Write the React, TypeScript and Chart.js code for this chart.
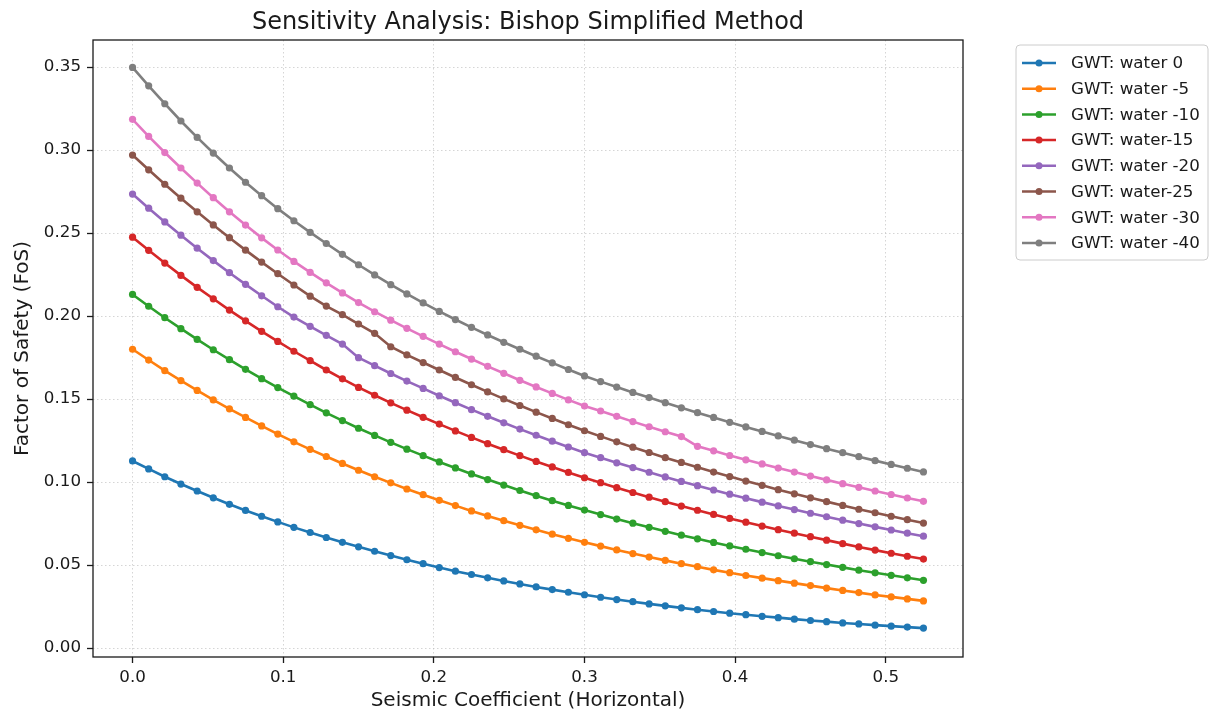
import React, { useEffect, useRef } from "react";
import { Chart, registerables } from "chart.js";

Chart.register(...registerables);

const chartTitle = "Sensitivity Analysis: Bishop Simplified Method";
const xAxisTitle = "Seismic Coefficient (Horizontal)";
const yAxisTitle = "Factor of Safety (FoS)";

const seismicCoefficient = [
  0, 0.0107, 0.0214, 0.0321, 0.0429, 0.0536, 0.0643, 0.075, 0.0857, 0.0964,
  0.1071, 0.1179, 0.1286, 0.1393, 0.15, 0.1607, 0.1714, 0.1821, 0.1929, 0.2036,
  0.2143, 0.225, 0.2357, 0.2464, 0.2571, 0.2679, 0.2786, 0.2893, 0.3, 0.3107,
  0.3214, 0.3321, 0.3429, 0.3536, 0.3643, 0.375, 0.3857, 0.3964, 0.4071, 0.4179,
  0.4286, 0.4393, 0.45, 0.4607, 0.4714, 0.4821, 0.4929, 0.5036, 0.5143, 0.525,
];

const seriesLabels = [
  "GWT: water 0",
  "GWT: water -5",
  "GWT: water -10",
  "GWT: water-15",
  "GWT: water -20",
  "GWT: water-25",
  "GWT: water -30",
  "GWT: water -40",
];

const water0 = [
  0.1127, 0.1079, 0.1032, 0.0988, 0.0946, 0.0905, 0.0866, 0.0829, 0.0794, 0.076,
  0.0727, 0.0696, 0.0666, 0.0637, 0.061, 0.0583, 0.0557, 0.0532, 0.0508, 0.0485,
  0.0463, 0.0443, 0.0423, 0.0404, 0.0386, 0.0368, 0.0352, 0.0336, 0.0321, 0.0306,
  0.0292, 0.0279, 0.0266, 0.0254, 0.0242, 0.0231, 0.022, 0.021, 0.0201, 0.0191,
  0.0183, 0.0174, 0.0166, 0.0159, 0.0151, 0.0145, 0.0138, 0.0132, 0.0126, 0.012,
];
const water5 = [
  0.18, 0.1735, 0.1671, 0.1611, 0.1552, 0.1495, 0.1441, 0.1389, 0.1338, 0.1289,
  0.1242, 0.1197, 0.1154, 0.1112, 0.1071, 0.1032, 0.0995, 0.0958, 0.0924, 0.089,
  0.0858, 0.0826, 0.0796, 0.0767, 0.0739, 0.0712, 0.0686, 0.0661, 0.0637, 0.0614,
  0.0591, 0.0569, 0.0548, 0.0528, 0.0508, 0.049, 0.0471, 0.0454, 0.0437, 0.0421,
  0.0406, 0.0391, 0.0376, 0.0361, 0.0347, 0.0334, 0.032, 0.0308, 0.0296, 0.0284,
];
const water10 = [
  0.213, 0.2059, 0.199, 0.1924, 0.1859, 0.1797, 0.1737, 0.1679, 0.1623, 0.1569,
  0.1517, 0.1466, 0.1417, 0.137, 0.1324, 0.1281, 0.1239, 0.1198, 0.1159, 0.1121,
  0.1085, 0.1049, 0.1015, 0.0982, 0.0949, 0.0918, 0.0888, 0.0859, 0.0831, 0.0804,
  0.0777, 0.0752, 0.0727, 0.0703, 0.068, 0.0658, 0.0636, 0.0615, 0.0595, 0.0575,
  0.0556, 0.0538, 0.052, 0.0503, 0.0486, 0.0469, 0.0453, 0.0438, 0.0423, 0.0408,
];
const water15 = [
  0.2475, 0.2396, 0.2319, 0.2245, 0.2173, 0.2104, 0.2036, 0.1971, 0.1908, 0.1847,
  0.1788, 0.1731, 0.1675, 0.1622, 0.157, 0.1523, 0.1477, 0.1433, 0.139, 0.1349,
  0.1308, 0.1269, 0.1231, 0.1195, 0.1159, 0.1124, 0.1091, 0.1058, 0.1026, 0.0996,
  0.0966, 0.0937, 0.0909, 0.0882, 0.0855, 0.083, 0.0805, 0.0781, 0.0758, 0.0735,
  0.0713, 0.0692, 0.0671, 0.065, 0.0629, 0.0609, 0.059, 0.0571, 0.0553, 0.0536,
];
const water20 = [
  0.2735, 0.265, 0.2567, 0.2487, 0.2409, 0.2334, 0.2261, 0.2191, 0.2122, 0.2056,
  0.1994, 0.1938, 0.1884, 0.1831, 0.1749, 0.1701, 0.1654, 0.1608, 0.1564, 0.152,
  0.1478, 0.1436, 0.1396, 0.1357, 0.1319, 0.1282, 0.1246, 0.1211, 0.1177, 0.1147,
  0.1116, 0.1087, 0.1059, 0.1031, 0.1004, 0.0978, 0.0952, 0.0927, 0.0903, 0.0879,
  0.0856, 0.0834, 0.0812, 0.0791, 0.077, 0.075, 0.073, 0.0711, 0.0692, 0.0674,
];
const water25 = [
  0.297, 0.2881, 0.2794, 0.271, 0.2628, 0.2549, 0.2472, 0.2397, 0.2325, 0.2255,
  0.2187, 0.212, 0.206, 0.2008, 0.1952, 0.1896, 0.1815, 0.1766, 0.172, 0.1675,
  0.163, 0.1586, 0.1543, 0.1501, 0.1461, 0.1421, 0.1383, 0.1345, 0.1309, 0.1275,
  0.1242, 0.121, 0.1178, 0.1147, 0.1118, 0.1089, 0.106, 0.1033, 0.1006, 0.098,
  0.0954, 0.0929, 0.0905, 0.0882, 0.0859, 0.0836, 0.0815, 0.0794, 0.0773, 0.0753,
];
const water30 = [
  0.3185, 0.3082, 0.2985, 0.2892, 0.2801, 0.2713, 0.2628, 0.2548, 0.2471, 0.2398,
  0.2329, 0.2263, 0.22, 0.2139, 0.2081, 0.2026, 0.1975, 0.1926, 0.1878, 0.1831,
  0.1785, 0.1741, 0.1697, 0.1655, 0.1613, 0.1573, 0.1534, 0.1495, 0.1458, 0.1428,
  0.1396, 0.1364, 0.1333, 0.1303, 0.1274, 0.1215, 0.1188, 0.116, 0.1134, 0.1109,
  0.1084, 0.106, 0.1036, 0.1013, 0.099, 0.0968, 0.0946, 0.0925, 0.0904, 0.0884,
];
const water40 = [
  0.3498, 0.3387, 0.3279, 0.3175, 0.3076, 0.2982, 0.2892, 0.2806, 0.2725, 0.2647,
  0.2574, 0.2504, 0.2437, 0.2372, 0.2309, 0.2248, 0.2189, 0.2133, 0.2079, 0.2028,
  0.1979, 0.1932, 0.1886, 0.1842, 0.18, 0.1758, 0.1718, 0.1678, 0.1639, 0.1605,
  0.1572, 0.154, 0.1509, 0.1478, 0.1447, 0.1418, 0.1389, 0.136, 0.1332, 0.1305,
  0.1278, 0.1252, 0.1226, 0.1201, 0.1177, 0.1153, 0.1129, 0.1106, 0.1083, 0.1061,
];

const seriesColors = [
  "#1f77b4", "#ff7f0e", "#2ca02c", "#d62728",
  "#9467bd", "#8c564b", "#e377c2", "#7f7f7f",
];

const xTickValues = [0, 0.1, 0.2, 0.3, 0.4, 0.5];
const yTickValues = [0, 0.05, 0.1, 0.15, 0.2, 0.25, 0.3, 0.35];

const FONT = "'DejaVu Sans', 'Liberation Sans', sans-serif";
const TEXT = "#1a1a1a";

const overlayPlugin = {
  id: "overlay",
  afterDraw(chart: any) {
    const { ctx, chartArea: a } = chart;
    ctx.save();
    // axes frame (all four spines)
    ctx.strokeStyle = TEXT;
    ctx.lineWidth = 1.3;
    ctx.strokeRect(a.left, a.top, a.right - a.left, a.bottom - a.top);

    // title
    ctx.fillStyle = TEXT;
    ctx.font = `24px ${FONT}`;
    ctx.textAlign = "center";
    ctx.textBaseline = "alphabetic";
    ctx.fillText(chartTitle, (a.left + a.right) / 2, a.top - 11);

    // legend box
    const lx = a.right + 53;
    const ly = a.top + 5;
    const lw = 192;
    const lh = 215;
    const r = 4;
    ctx.beginPath();
    ctx.moveTo(lx + r, ly);
    ctx.lineTo(lx + lw - r, ly);
    ctx.arcTo(lx + lw, ly, lx + lw, ly + r, r);
    ctx.lineTo(lx + lw, ly + lh - r);
    ctx.arcTo(lx + lw, ly + lh, lx + lw - r, ly + lh, r);
    ctx.lineTo(lx + r, ly + lh);
    ctx.arcTo(lx, ly + lh, lx, ly + lh - r, r);
    ctx.lineTo(lx, ly + r);
    ctx.arcTo(lx, ly, lx + r, ly, r);
    ctx.closePath();
    ctx.fillStyle = "rgba(255,255,255,0.8)";
    ctx.fill();
    ctx.strokeStyle = "#cccccc";
    ctx.lineWidth = 1;
    ctx.stroke();

    ctx.font = `16.7px ${FONT}`;
    ctx.textAlign = "left";
    ctx.textBaseline = "middle";
    chart.data.datasets.forEach((ds: any, k: number) => {
      const y = ly + 18 + k * 25.7;
      ctx.strokeStyle = ds.borderColor;
      ctx.lineWidth = 2.5;
      ctx.beginPath();
      ctx.moveTo(lx + 6, y);
      ctx.lineTo(lx + 40, y);
      ctx.stroke();
      ctx.fillStyle = ds.borderColor;
      ctx.beginPath();
      ctx.arc(lx + 23, y, 3.5, 0, Math.PI * 2);
      ctx.fill();
      ctx.fillStyle = TEXT;
      ctx.fillText(ds.label, lx + 55, y + 1);
    });
    ctx.restore();
  },
};

export default function App() {
  const canvasRef = useRef<HTMLCanvasElement>(null);

  useEffect(() => {
    const canvas = canvasRef.current;
    if (!canvas) return;
    const series = [water0, water5, water10, water15, water20, water25, water30, water40];
    const datasets = series.map((vals, k) => ({
      label: seriesLabels[k],
      data: vals.map((v, i) => ({ x: seismicCoefficient[i], y: v })),
      borderColor: seriesColors[k],
      backgroundColor: seriesColors[k],
      pointBackgroundColor: seriesColors[k],
      pointBorderColor: seriesColors[k],
      pointBorderWidth: 0,
      pointRadius: 3.6,
      pointHoverRadius: 3.6,
      borderWidth: 2.6,
      tension: 0,
      fill: false,
      order: series.length - k,
    }));

    const gridCommon = {
      color: "rgba(185,185,185,0.6)",
      lineWidth: 1,
      drawOnChartArea: true,
      drawTicks: true,
      tickLength: 6,
      tickColor: TEXT,
      tickWidth: 1.3,
    };

    const chart = new Chart(canvas, {
      type: "line",
      data: { datasets },
      plugins: [overlayPlugin],
      options: {
        animation: false,
        responsive: false,
        devicePixelRatio: 1,
        layout: { padding: { left: 0, top: 40, right: 252, bottom: 0 } },
        plugins: {
          legend: { display: false },
          title: { display: false },
          tooltip: { enabled: false },
        },
        scales: {
          x: {
            type: "linear",
            min: -0.02625,
            max: 0.55125,
            afterBuildTicks: (s: any) => {
              s.ticks = xTickValues.map((v) => ({ value: v }));
            },
            afterFit: (s: any) => {
              s.height = 60;
            },
            ticks: {
              autoSkip: false,
              maxRotation: 0,
              padding: 5,
              color: TEXT,
              font: { family: FONT, size: 16.7 },
              callback: (v: any) => Number(v).toFixed(1),
            },
            grid: gridCommon,
            border: { display: false, dash: [1.5, 2.5] },
            title: {
              display: true,
              text: xAxisTitle,
              color: TEXT,
              font: { family: FONT, size: 20 },
              padding: { top: 0, bottom: 4 },
            },
          },
          y: {
            type: "linear",
            min: -0.0054,
            max: 0.3663,
            afterBuildTicks: (s: any) => {
              s.ticks = yTickValues.map((v) => ({ value: v }));
            },
            afterFit: (s: any) => {
              s.width = 93;
            },
            ticks: {
              autoSkip: false,
              padding: 6,
              color: TEXT,
              font: { family: FONT, size: 16.7 },
              callback: (v: any) => Number(v).toFixed(2),
            },
            grid: gridCommon,
            border: { display: false, dash: [1.5, 2.5] },
            title: {
              display: true,
              text: yAxisTitle,
              color: TEXT,
              font: { family: FONT, size: 20 },
              padding: { top: 11, bottom: 0 },
            },
          },
        },
      },
    } as any);

    return () => chart.destroy();
  }, []);

  return (
    <div style={{ position: "fixed", left: 0, top: 0, width: 1215, height: 717, background: "#fff" }}>
      <canvas ref={canvasRef} width={1215} height={717} style={{ display: "block", width: 1215, height: 717 }} />
    </div>
  );
}
